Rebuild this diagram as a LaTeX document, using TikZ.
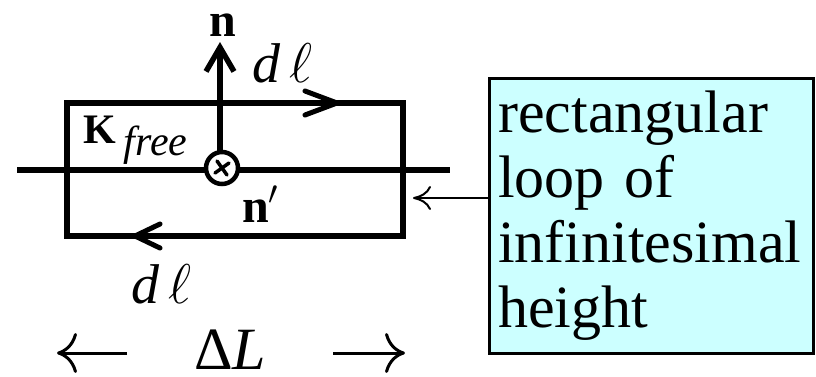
\RequirePackage{fix-cm}
\documentclass[tikz,border=0pt]{standalone}
\usepackage{fontspec}
\setmainfont{Liberation Serif}
\usetikzlibrary{arrows.meta}

\definecolor{notecyan}{RGB}{204,255,255}
\tikzset{
  loopline/.style={line width=5.5pt},
  barb/.style={line width=5pt, line cap=round, line join=round},
  note/.style={draw, line width=2.5pt, fill=notecyan, align=left,
    anchor=north west, minimum width=324pt, minimum height=275pt,
    inner xsep=7pt, text width=306pt,
    font=\fontsize{60}{65}\selectfont},
  pointer/.style={line width=2pt, -{To[length=18pt,width=24pt]}},
  dimarrow/.style={line width=3pt, -{To[length=20pt,width=40pt]}},
}

\begin{document}
\begin{tikzpicture}[x=1pt,y=-1pt]
    \useasboundingbox (0,0) rectangle (816,376);

    \coordinate (nw) at (67,103);
    \coordinate (se) at (403,236);
    \coordinate (c) at (222,168);
    \draw[loopline] (nw) rectangle (se);
    \draw[loopline] (17,170) -- (450,170);

    % direction of the path round the loop
    \draw[barb] (305,91) -- (337,103) -- (305,115);
    \draw[barb] (160,224) -- (135,236) -- (160,248);

    \draw[loopline, -{Straight Barb[length=24pt,width=28pt]}] (220,152) -- (220,42);
    \draw[line width=4.5pt, fill=white] (c) circle (16);
    \draw[line width=3.5pt, line cap=round] (c) +(-5,-7) -- +(5,7) (c) +(-7,5) -- +(7,-5);

    \node[inner sep=0pt] (n) at (223,25) {\fontsize{48}{48}\selectfont\textbf{n}};
    \node[anchor=base west, inner sep=0pt] (nprime) at (242,222)
      {\fontsize{48}{48}\selectfont\textbf{n}$'$};
    \node[anchor=base west, inner sep=0pt] (kfree) at (83,143)
      {\fontsize{42}{42}\selectfont\textbf{K}\hspace{8pt}\raisebox{-12pt}{\textit{free}}};
    \node[anchor=base west, inner sep=0pt] (dltop) at (252,82)
      {\fontsize{56}{56}\selectfont\textit{d}\,$\ell$};
    \node[anchor=base west, inner sep=0pt] (dlbot) at (131,303)
      {\fontsize{56}{56}\selectfont\textit{d}\,$\ell$};
    \node[anchor=base, inner sep=0pt] (dL) at (230,369)
      {\fontsize{60}{60}\selectfont Δ\textit{L}};

    \foreach \s/\e in {127/57,333/405} {
        \draw[dimarrow] (\s,353) -- (\e,353);
      }

    \node[note] (loopnote) at (488,77) {rectangular\\loop of\\infinitesimal\\height};
    \coordinate (tip) at (413,198);
    \draw[pointer] (loopnote.west |- tip) -- (tip);
  \end{tikzpicture}
\end{document}
